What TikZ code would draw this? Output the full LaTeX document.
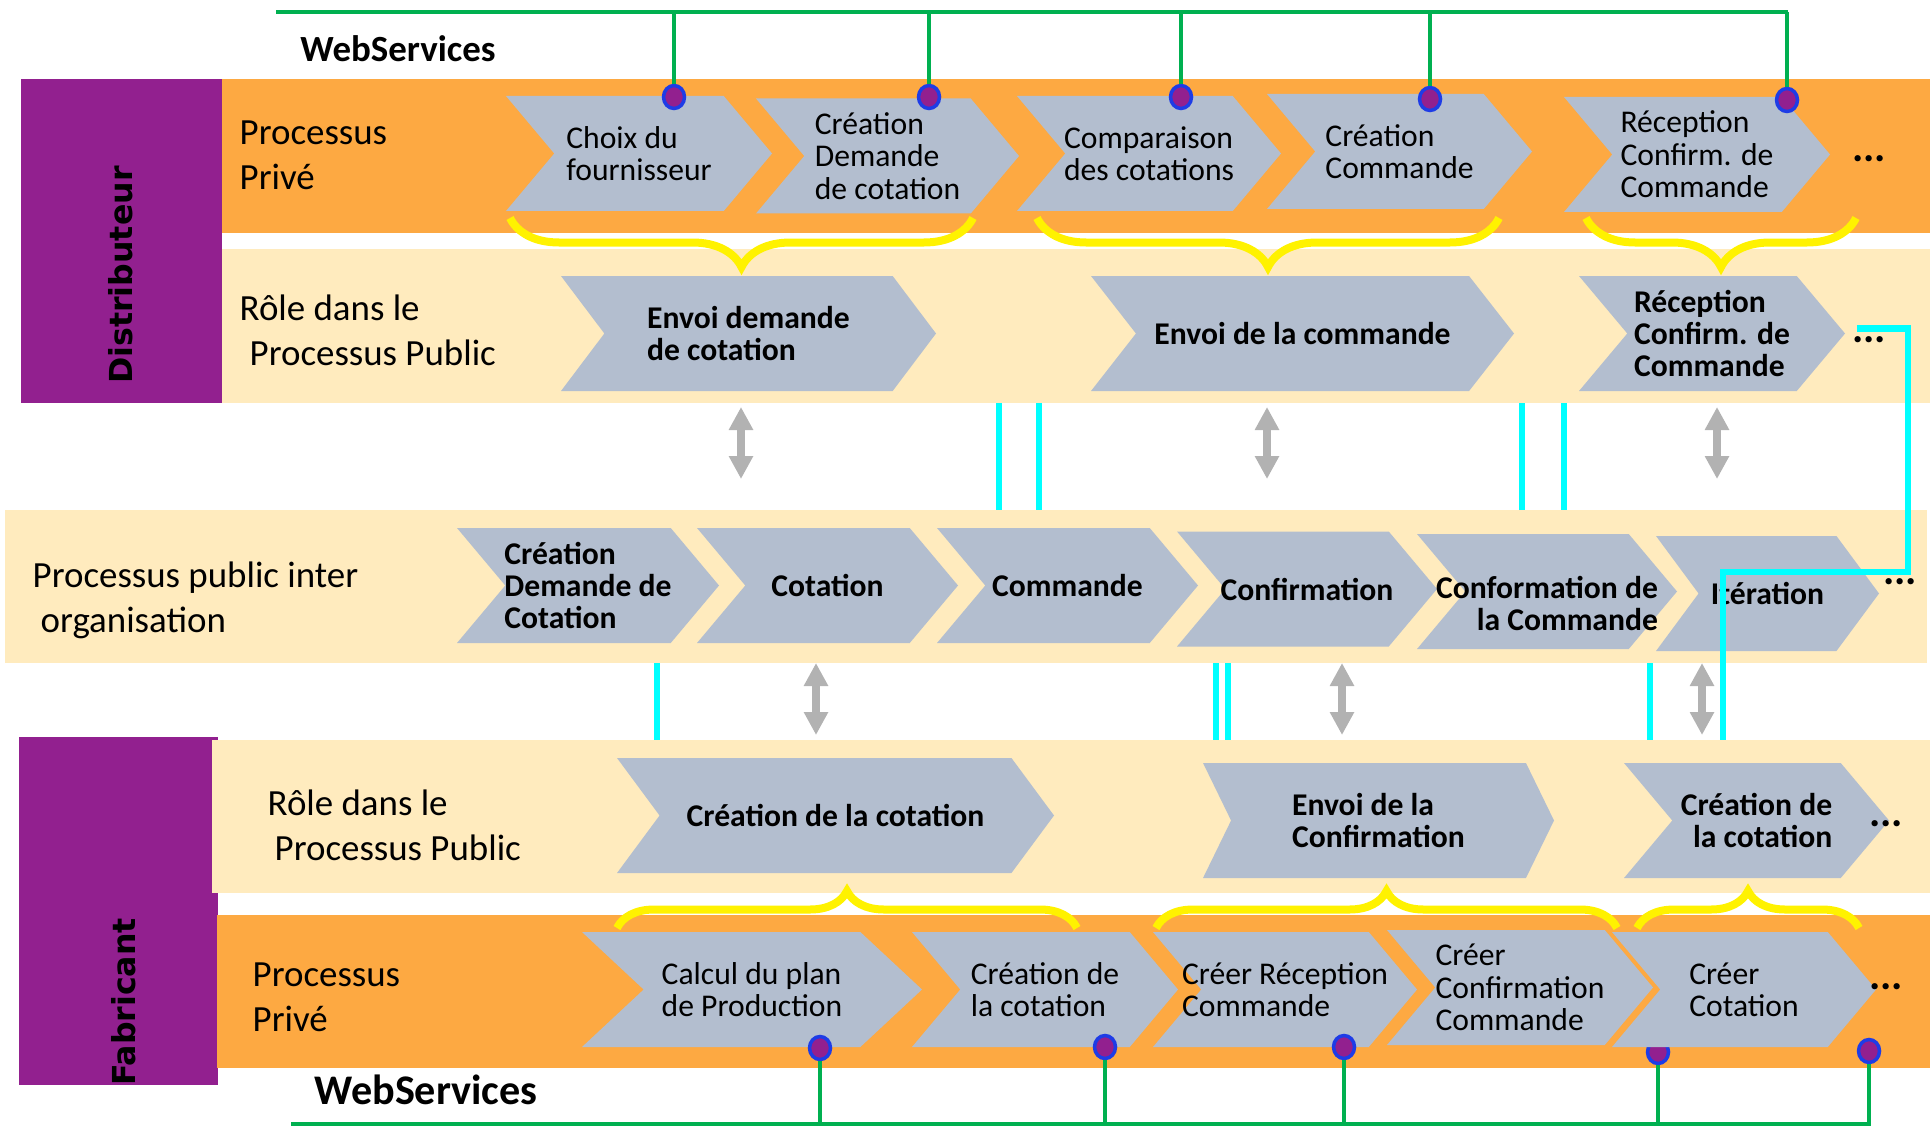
\documentclass[tikz,border=0pt]{standalone}
\usepackage{fontspec}
\setmainfont{Carlito}
\newfontfamily\vertfont{DejaVu Sans}
\usetikzlibrary{shapes.symbols,arrows.meta,decorations.pathreplacing}

\definecolor{lanepurple}{RGB}{146,32,143}
\definecolor{laneorange}{RGB}{253,169,66}
\definecolor{lanecream}{RGB}{255,235,190}
\definecolor{chevgray}{RGB}{179,190,207}
\definecolor{wsgreen}{RGB}{0,176,80}
\definecolor{dotblue}{RGB}{30,60,230}
\definecolor{linkcyan}{RGB}{0,255,255}
\definecolor{arrgray}{RGB}{178,178,178}

\newcommand\lanefont{\fontsize{10.5}{12.8}\selectfont}
\newcommand\chevfont{\fontsize{9}{9.2}\selectfont}
\newcommand\chevbold{\fontsize{9}{9.2}\selectfont\bfseries}
\newcommand\namefont{\vertfont\bfseries\fontsize{9}{10}\selectfont}
\newcommand\morefont{\fontsize{12}{12}\selectfont\bfseries}

\tikzset{
  band/.style={anchor=north west,inner sep=0pt,outer sep=0pt},
  chev/.style={signal,signal to=east,signal from=west,signal pointer angle=100,
    fill=chevgray,inner xsep=-4mm,inner ysep=0pt,minimum height=11.5mm,
    font=\chevfont,align=left},
  chevb/.style={chev,font=\chevbold},
  lanelabel/.style={anchor=west,align=left,font=\lanefont,inner sep=0pt},
  wsdot/.style={ellipse,fill=lanepurple,draw=dotblue,line width=0.35mm,
    minimum width=2.1mm,minimum height=2.3mm,inner sep=0pt},
  ws/.style={draw=wsgreen,line width=0.4mm},
  link/.style={draw=linkcyan,line width=0.65mm},
  brc/.style={draw=yellow,line width=0.8mm,decorate,decoration={brace,amplitude=#1}},
  dbl/.style={draw=arrgray,line width=0.8mm,
    {Triangle[width=2.3mm,length=2.3mm]}-{Triangle[width=2.3mm,length=2.3mm]}},
}
\usetikzlibrary{shapes.geometric}

\begin{document}
\begin{tikzpicture}[x=0.1mm,y=-0.1mm]
\useasboundingbox (0,0) rectangle (1930,1128);

% lanes
\node[band,fill=lanepurple,minimum width=20.1mm,minimum height=32.4mm] (dBox) at (21,79) {};
\node[band,fill=laneorange,minimum width=170.8mm,minimum height=15.4mm] (dPriv) at (222,79) {};
\node[band,fill=lanecream,minimum width=170.8mm,minimum height=15.4mm] (dRole) at (222,249) {};
\node[band,fill=lanecream,minimum width=192.2mm,minimum height=15.3mm] (mid) at (5,510) {};
\node[band,fill=lanepurple,minimum width=19.9mm,minimum height=34.8mm] (fBox) at (19,737) {};
\node[band,fill=lanecream,minimum width=171.8mm,minimum height=15.3mm] (fRole) at (212,740) {};
\node[band,fill=laneorange,minimum width=171.3mm,minimum height=15.3mm] (fPriv) at (217,915) {};

\node[rotate=90,font=\namefont] (dTxt) at (121,275) {Distributeur};
\node[rotate=90,font=\namefont] (fTxt) at (124,1002) {Fabricant};

\node[lanelabel] (dPrivL) at (239,155) {Processus\\Privé};
\node[lanelabel] (dRoleL) at (239,330) {Rôle dans le\\\hspace*{1mm}Processus Public};
\node[lanelabel] (midL) at (32,600) {Processus public inter\\\hspace*{0.8mm}organisation};
\node[lanelabel] (fRoleL) at (267,825) {Rôle dans le\\\hspace*{0.7mm}Processus Public};
\node[lanelabel] (fPrivL) at (252,997) {Processus\\Privé};

% braces
\draw[brc=4.9mm] (973,218) -- (510,218);
\draw[brc=4.9mm] (1499,218) -- (1037,218);
\draw[brc=4.9mm] (1856,218) -- (1586,218);
\draw[brc=3.7mm] (617,928) -- (1077,928);
\draw[brc=3.7mm] (1156,928) -- (1617,928);
\draw[brc=3.7mm] (1637,928) -- (1859,928);

\node[wsdot] (pdD) at (1658,1052) {};

% distributeur
\node[chev,minimum width=26.6mm] (cA) at (639,153.5) {Choix du\\fournisseur};
\node[chev,minimum width=26.3mm] (cB) at (887.5,156) {Création\\Demande\\de cotation};
\node[chev,minimum width=26.4mm] (cC) at (1149,153.5) {Comparaison\\des cotations};
\node[chev,minimum width=26.5mm] (cD) at (1399.5,151.5) {Création\\Commande};
\node[chev,minimum width=26.6mm] (cE) at (1697,154.5) {Réception\\Confirm. de\\Commande};

\node[chevb,minimum width=37.5mm,signal pointer angle=106] (rA) at (748.5,333.5) {Envoi demande\\de cotation};
\node[chevb,minimum width=42.3mm,signal pointer angle=104] (rB) at (1302.5,333.5) {Envoi de la commande};
\node[chevb,minimum width=26.6mm] (rC) at (1712,333.5) {Réception\\Confirm. de\\Commande};

% inter organisation
\node[chevb,minimum width=26.2mm] (mA) at (588,585.5) {Création\\Demande de\\Cotation};
\node[chevb,minimum width=26.1mm] (mB) at (827.5,585.5) {Cotation};
\node[chevb,minimum width=26.1mm] (mC) at (1067.5,585.5) {Commande};
\node[chevb,minimum width=26mm] (mD) at (1307,589) {Confirmation};
\node[chevb,minimum width=26mm,
  label={[font=\chevbold,align=right,yshift=-1.2mm]center:{Conformation de\\la Commande}}] (mE) at (1547,591.5) {};
\node[chevb,minimum width=22.3mm,signal pointer angle=107] (mF) at (1767.5,593.5) {Itération};

% fabricant
\node[chevb,minimum width=43.7mm,signal pointer angle=107] (fA) at (835.5,815.5) {Création de la cotation};
\node[chevb,minimum width=35.1mm,signal pointer angle=128] (fB) at (1378.5,820.5) {Envoi de la\\Confirmation};
\node[chevb,minimum width=26.5mm,align=right] (fC) at (1756.5,820.5) {Création de\\la cotation};

\node[chev,minimum width=34mm,signal pointer angle=86] (pA) at (752,989.5) {Calcul du plan\\de Production};
\node[chev,minimum width=26.6mm] (pB) at (1045,989.5) {Création de\\la cotation};
\node[chev,minimum width=26.4mm] (pC) at (1285,989.5) {Créer Réception\\Commande};
\node[chev,minimum width=26.6mm] (pD) at (1520,987.5) {Créer\\Confirmation\\Commande};
\node[chev,minimum width=26.4mm] (pE) at (1744,989.5) {Créer\\Cotation};

\node[font=\morefont] (eA) at (1869,159) {...};
\node[font=\morefont] (eB) at (1869,340) {...};
\node[font=\morefont] (eC) at (1900,582) {...};
\node[font=\morefont] (eD) at (1886,824) {...};
\node[font=\morefont] (eE) at (1886,987) {...};

% web services
\node[font=\fontsize{10.5}{12}\selectfont\bfseries] (wsT) at (398,49) {WebServices};
\node[font=\fontsize{12}{14}\selectfont\bfseries] (wsB) at (426,1090) {WebServices};
\coordinate (busT) at (276,12);
\coordinate (busTe) at (1788,12);
\coordinate (busB) at (291,1124);
\coordinate (busBe) at (1871,1124);
\draw[ws] (busT) -- (busTe);
\draw[ws] (busB) -- (busBe);

\node[wsdot] (dA) at (674,97) {};
\node[wsdot] (dB) at (929,97) {};
\node[wsdot] (dC) at (1181,97) {};
\node[wsdot] (dD) at (1430,99) {};
\node[wsdot] (dE) at (1787,100) {};
\node[wsdot] (pdA) at (820,1048) {};
\node[wsdot] (pdB) at (1105,1047) {};
\node[wsdot] (pdC) at (1344,1047) {};
\node[wsdot] (pdE) at (1869,1051) {};
\foreach \d in {dA,dB,dC,dD,dE}
  \draw[ws] (\d) -- (\d |- busT);
\foreach \d in {pdA,pdB,pdC,pdD,pdE}
  \draw[ws] (\d) -- (\d |- busB);

% exchanges
\foreach \x in {741,1267,1717}
  \draw[dbl,shorten <=0.4mm,shorten >=3.1mm] (\x,0 |- dRole.south) -- (\x,0 |- mid.north);
\foreach \x in {816,1342,1702}
  \draw[dbl,shorten >=0.5mm] (\x,0 |- mid.south) -- (\x,0 |- fRole.north);

\foreach \x in {999,1039,1522,1564}
  \draw[link] (\x,0 |- dRole.south) -- (\x,0 |- mid.north);
\foreach \x in {657,1216,1228,1650}
  \draw[link] (\x,0 |- mid.south) -- (\x,0 |- fRole.north);
\draw[link] ([xshift=1.1mm,yshift=0.5mm]rC.east) -| (1908,572) -- (1723,572) -- (1723,0 |- fRole.north);
\end{tikzpicture}
\end{document}
